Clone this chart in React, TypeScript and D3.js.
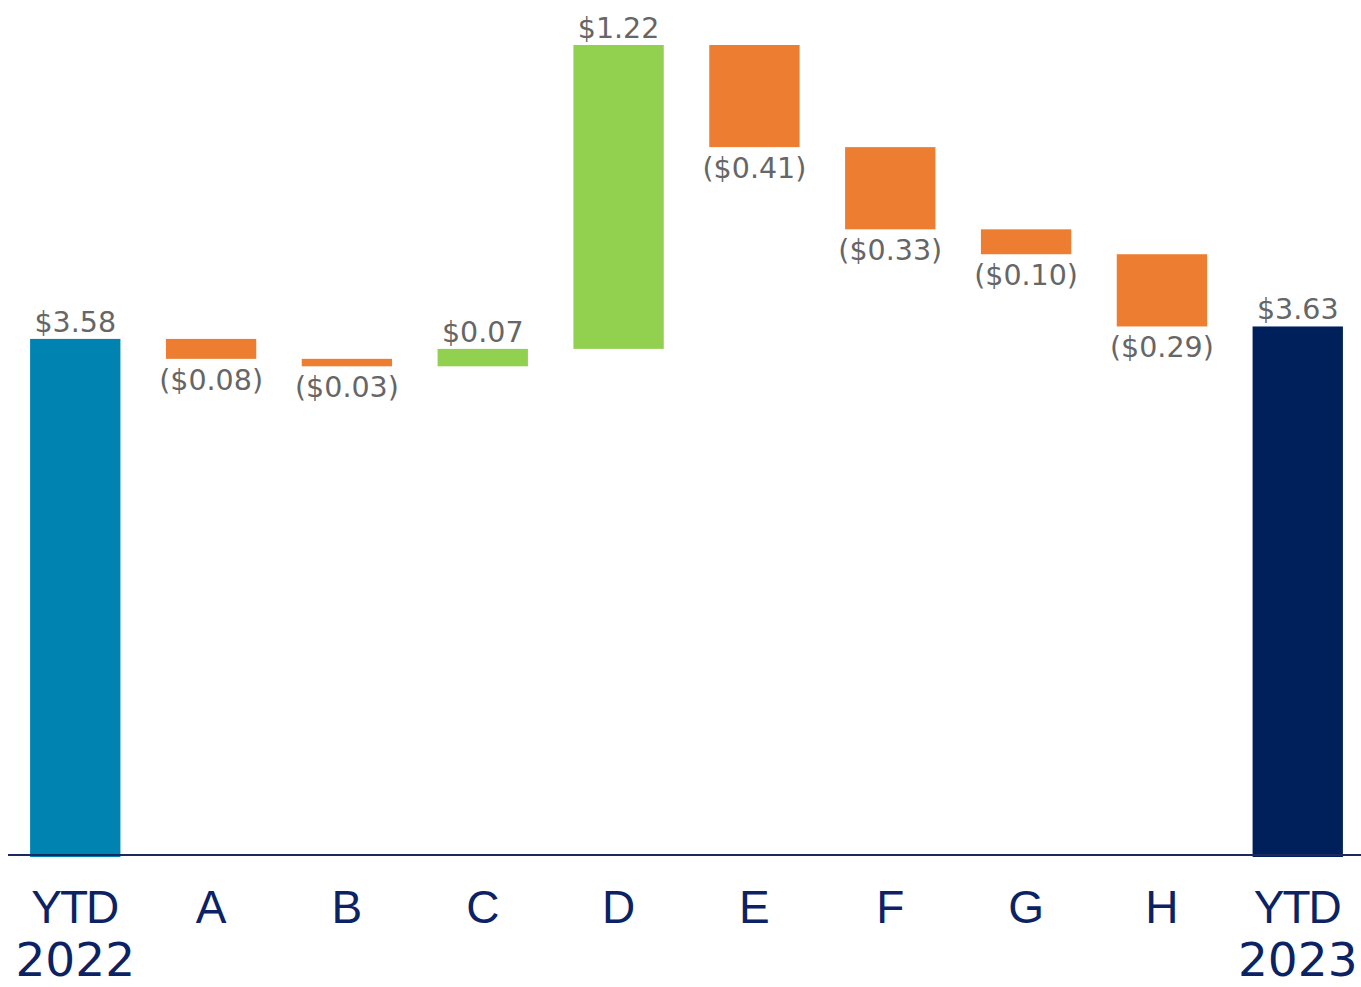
import React, { useMemo } from 'react';
import * as d3 from 'd3';

const categories = ['YTD\n2022', 'A', 'B', 'C', 'D', 'E', 'F', 'G', 'H', 'YTD\n2023'];
const values = [3.58, -0.08, -0.03, 0.07, 1.22, -0.41, -0.33, -0.10, -0.29, 3.63];
const kinds = ['start', 'delta', 'delta', 'delta', 'delta', 'delta', 'delta', 'delta', 'delta', 'end'];
const valueLabels = ['$3.58', '($0.08)', '($0.03)', '$0.07', '$1.22', '($0.41)', '($0.33)', '($0.10)', '($0.29)', '$3.63'];

const W = 1361;
const H = 987;

const colors = {
  start: '#0083B0',
  end: '#00205B',
  up: '#92D050',
  down: '#ED7D31',
  axis: '#1B2A5E',
  label: '#0B2265',
  value: '#666666',
};

const App = () => {
  const bars = useMemo(() => {
    let running = 0;
    return categories.map((c, i) => {
      const v = values[i];
      let y0: number, y1: number;
      if (kinds[i] === 'delta') {
        y0 = running;
        y1 = running + v;
        running = y1;
      } else {
        y0 = 0;
        y1 = v;
        running = v;
      }
      return { c, v, y0, y1, kind: kinds[i], label: valueLabels[i] };
    });
  }, []);

  const x = d3.scaleBand<string>().domain(categories).range([7, 1366]).paddingInner(0.335).paddingOuter(0.17);
  const yMax = d3.max(bars, d => Math.max(d.y0, d.y1)) as number;
  const y = d3.scaleLinear().domain([1.5, yMax]).range([857, 45]);

  const fill = (d: any) =>
    d.kind === 'start' ? colors.start : d.kind === 'end' ? colors.end : d.v >= 0 ? colors.up : colors.down;

  return (
    <svg
      width={W}
      height={H}
      style={{ position: 'absolute', left: 0, top: 0, background: '#fff', fontFamily: '"Liberation Sans", Arial, sans-serif' }}
    >
      {bars.map((d, i) => {
        const top = y(Math.max(d.y0, d.y1));
        const bottom = d.kind === 'delta' ? y(Math.min(d.y0, d.y1)) : y(1.5);
        const cx = (x(d.c) as number) + x.bandwidth() / 2;
        const negative = d.v < 0;
        return (
          <g key={i}>
            <rect x={x(d.c)} y={top} width={x.bandwidth()} height={bottom - top} fill={fill(d)} />
            <text
              x={cx}
              y={negative ? bottom + 31 : top - 7}
              textAnchor="middle"
              fill={colors.value}
              style={{ fontSize: '28.5px', fontFamily: '"DejaVu Sans", sans-serif' }}
            >
              {d.label}
            </text>
          </g>
        );
      })}

      {/* axis line */}
      <line x1={8} x2={1361} y1={855} y2={855} stroke={colors.axis} strokeWidth={2} />

      {/* category labels */}
      {categories.map((c, i) => {
        const cx = (x(c) as number) + x.bandwidth() / 2;
        const lines = c.split('\n');
        return (
          <g key={i} fill={colors.label}>
            {lines.map((l, j) => {
              const digits = /^\d+$/.test(l);
              const ls = !digits && l.length > 1 ? -2 : 0;
              return (
                <text
                  key={j}
                  x={cx + ls / 2}
                  y={j === 0 ? 923 : 976}
                  textAnchor="middle"
                  style={
                    digits
                      ? { fontSize: '47px', fontFamily: '"DejaVu Sans", sans-serif' }
                      : { fontSize: '46px', letterSpacing: `${ls}px` }
                  }
                >
                  {l}
                </text>
              );
            })}
          </g>
        );
      })}
    </svg>
  );
};

export default App;
